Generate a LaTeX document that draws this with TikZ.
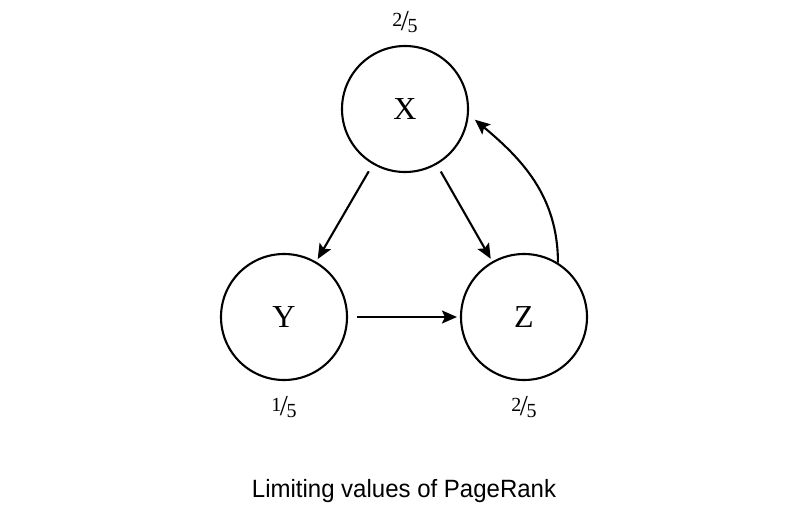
\documentclass[tikz,border=0pt]{standalone}
\usepackage{fontspec}
\setmainfont{Liberation Serif}
\newfontfamily\capfont{Liberation Sans}
\usetikzlibrary{arrows.meta}
\newcommand\myfrac[2]{\raisebox{0.42em}{\fontsize{20}{20}\selectfont #1}\kern-0.14em{\fontsize{29}{29}\selectfont /}\kern-0.14em\raisebox{-0.14em}{\fontsize{20}{20}\selectfont #2}}
\begin{document}
\begin{tikzpicture}[x=1pt,y=-1pt,
  state/.style={circle,draw,line width=2.1pt,minimum size=126pt,inner sep=0pt,font=\fontsize{32}{32}\selectfont},
  link/.style={line width=2.1pt,-{Stealth[length=15pt,width=13pt,inset=3pt]}},
  frac/.style={inner sep=0pt}]
\useasboundingbox (0,0) rectangle (800,522);
\node[state] (X) at (405,109) {X};
\node[state] (Y) at (284,317) {Y};
\node[state] (Z) at (524,317) {Z};
\node[frac] (fx) at (405,22) {\myfrac{2}{5}};
\node[frac] (fy) at (284,407) {\myfrac{1}{5}};
\node[frac] (fz) at (524,407) {\myfrac{2}{5}};
\draw[link,shorten <=8pt,shorten >=3pt] (X) -- (Y);
\draw[link,shorten <=8pt,shorten >=3pt] (X) -- (Z);
\draw[link,shorten <=9pt,shorten >=3pt] (Y) -- (Z);
\draw[link,shorten >=8pt] (Z.58) to[out=90,in=-40] (X.-5);
\node[inner sep=0pt] (cap) at (404,491) {\scalebox{0.96}[1]{\capfont\fontsize{25}{25}\selectfont Limiting values of PageRank}};
\end{tikzpicture}
\end{document}
